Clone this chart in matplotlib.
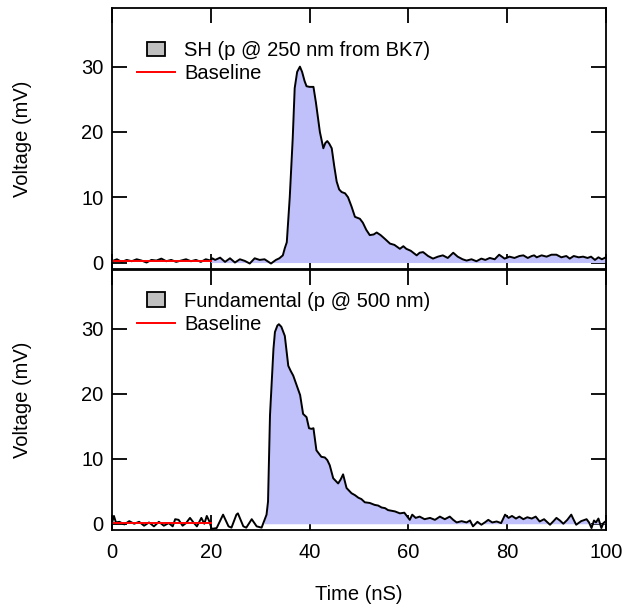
import numpy as np
import matplotlib
matplotlib.use('Agg')
import matplotlib.pyplot as plt
import matplotlib.patches as mpatches
from matplotlib.legend_handler import HandlerPatch
from matplotlib.lines import Line2D

plt.rcParams['font.family'] = ['Liberation Sans', 'DejaVu Sans']
plt.rcParams['font.size'] = 14.5

# SH trace (p @ 250 nm from BK7), time in nS, voltage in mV
sh_t = [0, 1, 2, 3, 4, 5, 6, 7, 8, 9, 10, 11, 12, 13, 14, 15, 16, 17, 18, 19, 20,
        20.3, 20.9, 21.9, 22.9, 23.9, 24.9, 25.9, 26.9, 27.9, 28.9, 29.9, 30.9, 32.2, 33.2, 33.9,
        34.6, 35.0, 35.4, 36.0, 36.6, 37.0, 37.5, 38.06, 38.5, 39.0, 39.4, 40.0, 40.8, 41.3,
        42.1, 42.8, 43.2, 43.6, 44.0, 44.5, 45.0, 45.5, 46.0, 46.5, 47.2, 47.8, 48.5, 49.2,
        50.2, 50.8, 51.5, 52.2, 53.0, 53.6, 54.4, 55.3, 56.3, 57.2, 58.3, 59.0, 59.6, 60.5,
        61.7, 62.3, 63.0, 64.0, 65.0, 66.0, 67.0, 68.0, 69.1, 70.0, 71.0, 71.8, 72.8, 73.8,
        74.8, 75.6, 76.5, 77.5, 78.4, 79.5, 80.5, 81.5, 82.5, 83.3, 84.2, 85.0, 85.5, 86.0,
        87.0, 88.0, 89.0, 90.0, 91.0, 92.0, 92.7, 93.5, 94.5, 95.4, 96.3, 97.0, 97.8, 98.5,
        99.2, 100]
sh_v = [0.2, 0.5, 0.1, 0.4, 0.2, 0.5, 0.3, 0.0, 0.4, 0.3, 0.6, 0.2, 0.4, 0.1, 0.3, 0.5, 0.2, 0.4, 0.1, 0.5, 0.3,
        0.65, 0.4, 0.75, 0.1, 0.65, 0.0, 0.5, 0.25, -0.15, 0.65, 0.4, 0.5, -0.15, 0.4, 0.65,
        1.1, 2.2, 3.1, 10.0, 19.0, 26.7, 29.2, 30.0, 29.2, 27.8, 27.0, 26.9, 26.9, 24.5,
        20.0, 17.5, 18.3, 18.6, 18.2, 17.5, 14.8, 12.4, 11.2, 10.8, 10.6, 10.0, 8.6, 7.0,
        6.7, 6.1, 5.0, 4.2, 4.3, 4.6, 4.2, 3.6, 2.9, 2.7, 2.1, 2.5, 2.1, 1.8,
        1.1, 1.5, 1.6, 1.0, 0.6, 0.9, 1.1, 0.7, 1.5, 0.9, 0.5, 0.3, 0.5, 0.2,
        0.6, 0.4, 0.7, 0.5, 1.2, 0.6, 0.9, 0.7, 1.0, 1.1, 0.7, 1.0, 1.1, 0.8,
        1.1, 0.9, 1.2, 1.2, 0.8, 1.0, 0.6, 1.0, 0.8, 0.9, 0.7, 0.9, 0.4, 0.8,
        0.5, 0.8]

# Fundamental trace (p @ 500 nm)
fu_t = [0, 0.4, 0.8, 1.5, 2.5, 3.5, 4.5, 5.5, 6.5, 7.5, 8.5, 9.5, 10.5, 11.5, 12.3, 12.8,
        13.5, 14.3, 15.0, 15.8, 16.5, 17.2, 18.1, 18.7, 19.2, 19.7, 20.2, 21.2, 22.5, 23.6,
        24.2, 25.2, 25.5, 26.6, 27.2, 28.3, 29.3, 30.3, 30.8, 31.3, 31.6, 32.0, 32.7, 33.0,
        33.5, 33.8, 34.3, 35.0, 35.7, 36.2, 36.7, 37.4, 38.1, 38.7, 39.4, 39.9, 40.4, 40.8,
        41.4, 42.4, 43.1, 43.6, 44.1, 44.8, 45.3, 45.8, 46.3, 46.8, 47.5, 48.5, 49.2, 49.9,
        50.5, 51.2, 52.2, 53.2, 53.9, 54.6, 55.3, 55.9, 56.6, 57.3, 58.3, 59.2, 60.3, 60.8,
        61.5, 62.3, 63.3, 64.4, 65.4, 66.4, 67.4, 68.4, 69.1, 69.8, 70.8, 71.8, 72.5, 73.1,
        74.0, 74.8, 75.5, 76.2, 77.0, 77.9, 78.8, 79.6, 80.3, 81.0, 81.8, 82.5, 83.3, 84.1,
        85.0, 85.8, 86.6, 87.5, 88.7, 89.4, 90.0, 90.7, 91.4, 92.2, 93.0, 93.5, 94.0, 95.0,
        96.1, 96.6, 97.1, 97.6, 98.0, 98.5, 99.1, 99.5, 100]
fu_v = [0.1, 1.2, 0.2, 0.3, -0.1, 0.4, 0.0, 0.3, -0.3, 0.2, -0.4, 0.3, -0.3, 0.1, -0.4, 0.7,
        0.6, -0.3, 0.1, 0.9, 0.2, -0.4, 0.9, 0.0, 1.2, 0.4, -0.8, -0.66, 1.4, -0.4,
        -0.6, 1.4, 1.6, -0.4, -0.6, 0.7, -0.4, -0.6, 0.4, 1.4, 3.4, 16.7, 26.9, 29.5,
        30.5, 30.7, 30.3, 28.9, 24.3, 23.5, 22.8, 21.3, 19.8, 16.9, 16.4, 14.7, 14.6, 14.7,
        11.3, 10.3, 10.2, 9.8, 9.0, 7.0, 6.6, 6.2, 6.8, 7.6, 5.5, 4.7, 4.4, 4.0,
        3.8, 3.3, 3.2, 2.9, 2.8, 2.5, 2.4, 2.1, 2.0, 1.9, 1.6, 1.7, 0.6, 1.4,
        0.9, 1.1, 0.7, 0.9, 0.6, 1.1, 0.7, 1.1, 0.6, 0.2, 0.4, 0.2, 0.5, -0.4,
        0.3, -0.15, 0.2, 0.6, 0.2, 0.35, 0.1, 1.4, 0.9, 1.2, 0.8, 1.1, 0.7, 1.0,
        0.8, 1.1, 0.35, 0.7, -0.15, 0.4, 0.9, 0.5, 0.0, 0.6, 1.4, 0.6, -0.15, 0.4,
        0.7, 0.2, -0.66, 0.5, 0.2, 0.8, -0.66, 0.1, 0.4]

# baselines (0-20 nS)
base_t = [0, 20]
sh_base = [0.3, 0.3]
fu_base = [0.05, 0.05]

labels = ['SH (p @ 250 nm from BK7)', 'Fundamental (p @ 500 nm)']
xticks = [0, 20, 40, 60, 80, 100]
yticks = [0, 10, 20, 30]

blue = '#c0c0fa'
gray = '#c0c0c0'


def small_box(legend, orig_handle, xdescent, ydescent, width, height, fontsize):
    return mpatches.Rectangle((-xdescent + width * 0.26, -ydescent), width * 0.48, height)


def panel(ax, t, v, base, label, fill_start, leg_y):
    t = np.array(t)
    v = np.array(v)
    ax.set_axisbelow(True)
    ax.fill_between(t, v, 0, where=t >= fill_start, color=blue, lw=0, zorder=1)
    ax.fill_between(t, v, 0, where=(t <= 20) & (v < 0), color=gray, lw=0, zorder=1)
    ax.plot(t, v, color='black', lw=1.4, zorder=2)
    ax.plot(base_t, base, color='red', lw=1.4, zorder=2.1)
    ax.set_xlim(0, 100)
    ax.set_ylim(-1.0, 39.0)
    ax.set_xticks(xticks)
    ax.set_yticks(yticks)
    ax.tick_params(direction='in', length=10.5, width=1.3, top=True, right=True,
                   labelsize=14.5)
    ax.tick_params(axis='y', pad=6)
    ax.tick_params(axis='x', pad=9)
    for s in ax.spines.values():
        s.set_linewidth(1.3)
    ax.set_ylabel('Voltage (mV)', fontsize=14.5)
    ax.yaxis.set_label_coords(-0.162, 0.5)
    h1 = mpatches.Patch(facecolor=gray, edgecolor='black', lw=1.3)
    h2 = Line2D([], [], color='red', lw=1.4)
    ax.legend([h1, h2], [label, 'Baseline'], loc='upper left',
              bbox_to_anchor=(0.05, leg_y), frameon=False, borderpad=0,
              borderaxespad=0, handlelength=1.9, handletextpad=0.45,
              labelspacing=0.22, fontsize=14.5,
              handler_map={mpatches.Patch: HandlerPatch(patch_func=small_box)})


fig = plt.figure(figsize=(6.22, 6.06), dpi=100)
ax1 = fig.add_axes([0.180, 0.556, 0.794, 0.431])
ax2 = fig.add_axes([0.180, 0.125, 0.794, 0.429])

panel(ax1, sh_t, sh_v, sh_base, labels[0], 20, 0.873)
panel(ax2, fu_t, fu_v, fu_base, labels[1], 30.5, 0.918)

ax1.tick_params(labelbottom=False)
ax2.set_xlabel('Time (nS)', fontsize=14.5)
ax2.xaxis.set_label_coords(0.5, -0.21)

fig.savefig('out.png', dpi=100)
